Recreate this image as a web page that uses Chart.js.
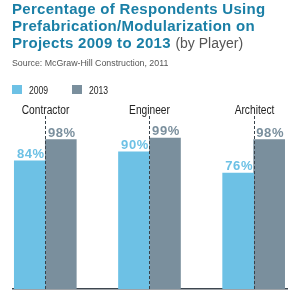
<!DOCTYPE html>
<html>
<head>
<meta charset="utf-8">
<script src="https://cdn.jsdelivr.net/npm/chart.js@4"></script>
<style>
html,body{margin:0;padding:0;background:#fff;}
#wrap{position:relative;width:300px;height:290px;overflow:hidden;}
#c{position:absolute;left:0;top:0;}
.t{position:absolute;left:12px;white-space:nowrap;font-family:"Liberation Sans",Arial,sans-serif;}
.h{font-weight:bold;font-size:15px;color:#1a7fa6;line-height:17px;letter-spacing:0.3px;}
.h span{font-weight:normal;color:#555;letter-spacing:0;font-size:14px;}
.s{font-size:8.8px;color:#555;}
</style>
</head>
<body>
<div id="wrap">
<canvas id="c" width="300" height="290"></canvas>
<div class="t h" style="top:0px">Percentage of Respondents Using</div>
<div class="t h" style="top:17px">Prefabrication/Modularization on</div>
<div class="t h" style="top:34px">Projects 2009 to 2013 <span>(by Player)</span></div>
<div class="t s" style="top:58px">Source: McGraw-Hill Construction, 2011</div>
</div>
<script>
const categories = ["Contractor", "Engineer", "Architect"];
const seriesNames = ["2009", "2013"];
const values2009 = [84, 90, 76];
const values2013 = [98, 99, 98];

const colors = ["#6dc1e5", "#7a8f9d"];
const sans = "'Liberation Sans', Arial, sans-serif";

function narrowText(ctx, text, x, y, size, align, squeeze) {
  ctx.save();
  ctx.translate(x, y);
  ctx.scale(squeeze, 1);
  ctx.font = size + "px " + sans;
  ctx.textAlign = align;
  ctx.textBaseline = 'alphabetic';
  ctx.fillText(text, 0, 0);
  ctx.restore();
}

const labelsPlugin = {
  id: 'custom',
  afterDatasetsDraw(chart) {
    const ctx = chart.ctx;
    const xs = chart.scales.x;
    const area = chart.chartArea;
    ctx.save();
    // legend
    const legendX = [12, 72];
    seriesNames.forEach((n, i) => {
      ctx.fillStyle = colors[i];
      ctx.fillRect(legendX[i], 85, 10, 9);
      ctx.fillStyle = '#222';
      narrowText(ctx, n, legendX[i] + 17, 93.5, 10.5, 'left', 0.82);
    });
    // dashed separators and category labels
    categories.forEach((c, i) => {
      const x = Math.round(xs.getPixelForValue(i)) + 0.5;
      ctx.strokeStyle = '#38424a';
      ctx.lineWidth = 1;
      ctx.setLineDash([3, 2]);
      ctx.beginPath();
      ctx.moveTo(x, area.top + 10);
      ctx.lineTo(x, area.bottom);
      ctx.stroke();
      ctx.setLineDash([]);
      ctx.fillStyle = '#222';
      narrowText(ctx, c, x, area.top + 7.5, 12, 'center', 0.85);
    });
    // value labels
    chart.data.datasets.forEach((ds, di) => {
      const meta = chart.getDatasetMeta(di);
      meta.data.forEach((bar, i) => {
        ctx.fillStyle = colors[di];
        ctx.font = "bold 13px " + sans;
        ctx.letterSpacing = '0.6px';
        ctx.textAlign = 'center';
        ctx.textBaseline = 'alphabetic';
        ctx.fillText(ds.data[i].y + '%', bar.x + 1, bar.y - 3);
      });
    });
    ctx.restore();
  }
};

new Chart(document.getElementById('c'), {
  type: 'bar',
  data: {
    datasets: [
      { label: seriesNames[0], data: categories.map((c, i) => ({x: i, y: values2009[i]})), backgroundColor: colors[0], barThickness: 31 },
      { label: seriesNames[1], data: categories.map((c, i) => ({x: i, y: values2013[i]})), backgroundColor: colors[1], barThickness: 31 }
    ]
  },
  options: {
    responsive: false,
    animation: false,
    layout: { padding: { top: 106, left: 13, right: 13, bottom: 1 } },
    plugins: {
      legend: { display: false },
      tooltip: { enabled: false }
    },
    scales: {
      x: {
        type: 'linear',
        offset: false,
        min: -0.31,
        max: 2.32,
        grid: { display: false, drawTicks: false },
        border: { display: true, color: '#3d4750', width: 1.5 },
        ticks: { display: false }
      },
      y: {
        min: 0,
        max: 120,
        display: false
      }
    }
  },
  plugins: [labelsPlugin]
});
</script>
</body>
</html>
